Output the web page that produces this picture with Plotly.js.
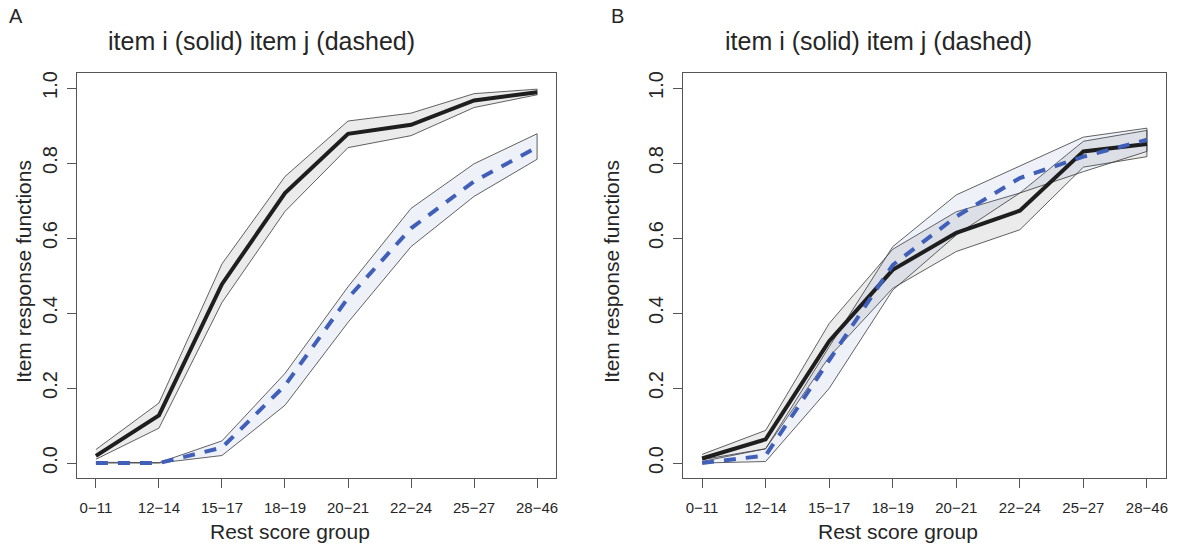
<!DOCTYPE html>
<html><head><meta charset="utf-8">
<script src="https://cdn.plot.ly/plotly-3.0.1.min.js"></script>
<style>html,body{margin:0;padding:0;background:#fff}#chart{width:1184px;height:547px}</style>
</head><body><div id="chart"></div><script>
// Categories (rest score groups)
const categories = ['0\u221211','12\u221214','15\u221217','18\u221219','20\u221221','22\u221224','25\u221227','28\u221246'];
const yTicks = [0, 0.2, 0.4, 0.6, 0.8, 1.0];

// Panel A
const A_i    = [0.019, 0.127, 0.477, 0.720, 0.878, 0.902, 0.967, 0.989];
const A_i_lo = [0.010, 0.093, 0.428, 0.671, 0.841, 0.873, 0.948, 0.982];
const A_i_hi = [0.036, 0.160, 0.531, 0.764, 0.912, 0.933, 0.985, 0.997];
const A_j    = [0.000, 0.000, 0.041, 0.207, 0.440, 0.626, 0.751, 0.842];
const A_j_lo = [0.000, 0.000, 0.020, 0.154, 0.375, 0.577, 0.711, 0.810];
const A_j_hi = [0.002, 0.001, 0.059, 0.239, 0.470, 0.679, 0.798, 0.878];

// Panel B
const B_i    = [0.012, 0.063, 0.325, 0.515, 0.614, 0.673, 0.831, 0.851];
const B_i_lo = [0.004, 0.038, 0.283, 0.466, 0.564, 0.622, 0.789, 0.817];
const B_i_hi = [0.023, 0.087, 0.372, 0.570, 0.670, 0.720, 0.858, 0.887];
const B_j    = [0.000, 0.020, 0.274, 0.528, 0.657, 0.760, 0.817, 0.862];
const B_j_lo = [0.000, 0.004, 0.199, 0.461, 0.608, 0.720, 0.777, 0.831];
const B_j_hi = [0.009, 0.038, 0.310, 0.577, 0.715, 0.791, 0.869, 0.893];

const FONT = 'Liberation Sans, Arial, Helvetica, sans-serif';
const TXT = '#262626';
const GRAY_FILL = 'rgba(120,120,120,0.15)';
const BLUE_FILL = 'rgba(100,120,200,0.10)';
const EDGE = {color:'#3a3a3a', width:0.8};

function band(lo, hi, fill, xa, ya){
  const xs = categories.concat(categories.slice().reverse());
  const ys = hi.concat(lo.slice().reverse());
  return {x:xs, y:ys, type:'scatter', mode:'lines', fill:'toself', fillcolor:fill,
          line:EDGE, xaxis:xa, yaxis:ya, hoverinfo:'skip', showlegend:false};
}
function solid(v, xa, ya){
  return {x:categories, y:v, type:'scatter', mode:'lines',
          line:{color:'#1e1e1e', width:4}, xaxis:xa, yaxis:ya, showlegend:false};
}
function dashed(v, xa, ya){
  return {x:categories, y:v, type:'scatter', mode:'lines',
          line:{color:'#3f5fb8', width:4, dash:'12px,10px'}, xaxis:xa, yaxis:ya, showlegend:false};
}

const data = [
  band(A_i_lo, A_i_hi, GRAY_FILL, 'x', 'y'),
  band(A_j_lo, A_j_hi, BLUE_FILL, 'x', 'y'),
  solid(A_i, 'x', 'y'),
  dashed(A_j, 'x', 'y'),
  band(B_i_lo, B_i_hi, GRAY_FILL, 'x2', 'y2'),
  band(B_j_lo, B_j_hi, BLUE_FILL, 'x2', 'y2'),
  solid(B_i, 'x2', 'y2'),
  dashed(B_j, 'x2', 'y2')
];

function xax(domain, anchor){
  return {domain:domain, anchor:anchor, type:'category', range:[-0.3, 7.3],
    showline:true, mirror:true, linecolor:'#555', linewidth:1.2, showgrid:false, zeroline:false,
    ticks:'outside', ticklen:9, tickcolor:'#555', tickwidth:1, ticklabelstandoff:7,
    tickfont:{family:FONT, size:15, color:TXT}, fixedrange:true};
}
function yax(anchor){
  return {domain:[0.1261, 0.8665], anchor:anchor, range:[-0.04, 1.04],
    tickvals:yTicks, tickformat:'.1f', tickangle:-90,
    showline:true, mirror:true, linecolor:'#555', linewidth:1.2, showgrid:false, zeroline:false,
    ticks:'outside', ticklen:9, tickcolor:'#555', tickwidth:1, ticklabelstandoff:2,
    tickfont:{family:FONT, size:20, color:TXT}, fixedrange:true};
}

const W = 1184, H = 547;
function ann(text, px, py, size, angle){
  return {text:text, xref:'paper', yref:'paper', x:px/W, y:1-py/H, xanchor:'center', yanchor:'middle',
          showarrow:false, textangle:angle||0, font:{family:FONT, size:size, color:TXT}};
}

const layout = {
  width:W, height:H, margin:{l:0, r:0, t:0, b:0},
  paper_bgcolor:'#fff', plot_bgcolor:'#fff', showlegend:false,
  xaxis:xax([77/W, 556/W], 'y'),
  yaxis:yax('x'),
  xaxis2:xax([683/W, 1166/W], 'y2'),
  yaxis2:yax('x2'),
  annotations:[
    ann('A', 16, 16, 20),
    ann('B', 617, 16, 20),
    ann('item i (solid) item j (dashed)', 261.5, 41, 25),
    ann('item i (solid) item j (dashed)', 878.5, 41, 25),
    ann('Rest score group', 290, 531, 21),
    ann('Rest score group', 898, 531, 21),
    ann('Item response functions', 23, 272, 21, -90),
    ann('Item response functions', 611, 272, 21, -90)
  ]
};

Plotly.newPlot('chart', data, layout, {displayModeBar:false, staticPlot:true});
</script></body></html>
